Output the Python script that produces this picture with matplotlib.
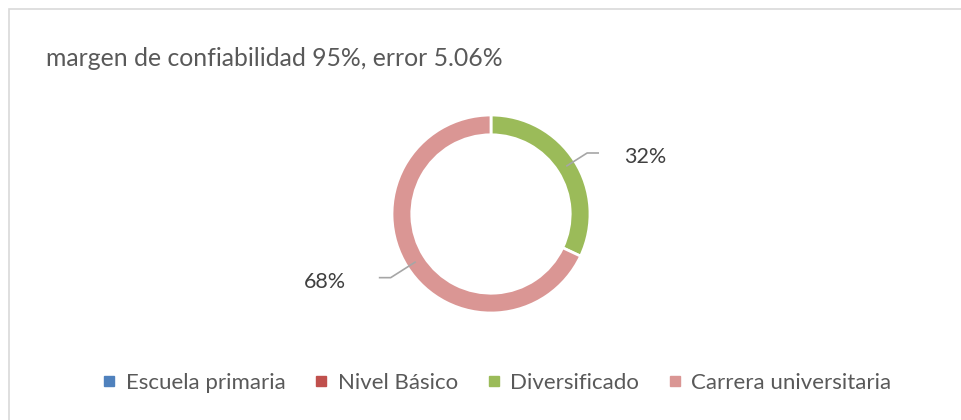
import numpy as np
import matplotlib
matplotlib.use("Agg")
import matplotlib.pyplot as plt
from matplotlib.lines import Line2D
from matplotlib.patches import Rectangle

categories = ["Escuela primaria", "Nivel Básico", "Diversificado", "Carrera universitaria"]
values = [0, 0, 32, 68]
colors = ["#4F81BD", "#C0504D", "#9BBB59", "#DA9694"]
title = "margen de confiabilidad 95%, error 5.06%"

plt.rcParams['font.family'] = ['Lato', 'DejaVu Sans']

W, H = 961, 420
fig = plt.figure(figsize=(W / 100, H / 100), dpi=100)

# chart border (light grey), only top/left visible in reference
fig.patches.append(Rectangle((8.5 / W, -0.1), 1.2, (H - 8.5) / H + 0.1, transform=fig.transFigure,
                             fill=False, edgecolor="#D9D9D9", linewidth=1.2))

fig.text(46 / W, 1 - 59 / H, title, fontsize=17.8, color="#595959", va="center", ha="left")

R_px = 99
cx, cy = 491, 214
S = 300
ax = fig.add_axes([(cx - S / 2) / W, (H - cy - S / 2) / H, S / W, S / H])
ax.axis("off")

wedges, _ = ax.pie(values, colors=colors, startangle=90, counterclock=False, radius=1.0,
                   wedgeprops=dict(width=0.2, edgecolor="white", linewidth=2))
lim = S / 2 / R_px
ax.set_xlim(-lim, lim)
ax.set_ylim(-lim, lim)
ax.set_aspect("equal")

total = sum(values)
for w, v in zip(wedges, values):
    if v == 0:
        continue
    mid = np.deg2rad((w.theta1 + w.theta2) / 2)
    c, s = np.cos(mid), np.sin(mid)
    sign = 1 if c >= 0 else -1
    p0 = (0.9 * c, 0.9 * s)
    r1 = 1.15 if sign > 0 else 1.2
    p1 = (r1 * c, r1 * s)
    p2 = (p1[0] + sign * 0.12, p1[1])
    ax.plot([p0[0], p1[0], p2[0]], [p0[1], p1[1], p2[1]], color="#A6A6A6", lw=1.2,
            clip_on=False, solid_capstyle="butt")
    tx = p2[0] + sign * (0.25 if sign > 0 else 0.33)
    ax.text(tx, p2[1] - 0.04, f"{round(100 * v / total)}%", fontsize=15.5, color="#404040",
            ha="left" if sign > 0 else "right", va="center", clip_on=False)

handles = [Line2D([], [], marker="s", linestyle="none", markersize=6.5, markerfacecolor=col,
                  markeredgecolor=col) for col in colors]
fig.legend(handles, categories, loc="center", bbox_to_anchor=(497 / W, 1 - 383 / H), ncol=4,
           frameon=False, fontsize=16, handlelength=0.6, handletextpad=0.45, columnspacing=1.3,
           labelcolor="#595959")

fig.savefig("out.png", dpi=100, facecolor="white")
